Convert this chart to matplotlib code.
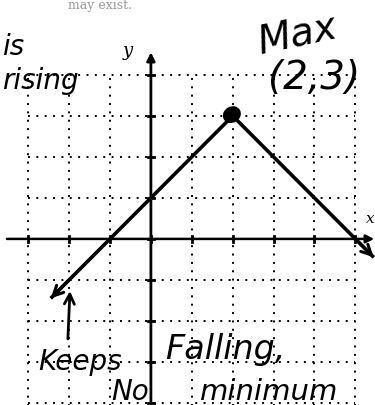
import matplotlib
matplotlib.use("Agg")
import matplotlib.pyplot as plt
from matplotlib.patches import Ellipse

# grid lines of the graph paper
grid_x = [-3, -2, -1, 0, 1, 2, 3, 4, 5]
grid_y = [-4, -3, -2, -1, 0, 1, 2, 3, 4]

# the piecewise line: rises to the max, then falls
line_x = [-2.45, 2, 5.45]
line_y = [-1.45, 3, -0.45]
max_x, max_y = 2, 3

fig = plt.figure(figsize=(3.75, 4.06), dpi=100)
ax = fig.add_axes([0, 0, 1, 1])
ax.set_xlim(-3.69, 5.48)
ax.set_ylim(-4.05, 5.85)
ax.axis('off')

dots = (0, (1.0, 3.3))
for gx in grid_x:
    if gx != 0:
        ax.plot([gx, gx], [-4.1, 4], color='black', lw=1.4, ls=dots)
for gy in grid_y:
    if gy != 0:
        ax.plot([-3, 5], [gy, gy], color='black', lw=1.4, ls=dots)

# axes with arrows
ax.annotate('', xy=(5.46, 0), xytext=(-3.52, 0), annotation_clip=False,
            arrowprops=dict(arrowstyle='-|>', lw=1.8, color='black', mutation_scale=12,
                            shrinkA=0, shrinkB=0))
ax.annotate('', xy=(0, 4.55), xytext=(0, -4.1), annotation_clip=False,
            arrowprops=dict(arrowstyle='-|>', lw=2.0, color='black', mutation_scale=12,
                            shrinkA=0, shrinkB=0))
for gx in grid_x:
    ax.plot([gx, gx], [-0.08, 0.08], color='black', lw=2)
for gy in grid_y:
    ax.plot([-0.08, 0.08], [gy, gy], color='black', lw=2)
ax.text(-0.56, 4.6, 'y', fontsize=13, style='italic', family='DejaVu Serif',
        ha='center', va='center')
ax.text(5.46, 0.5, 'x', fontsize=11, style='italic', family='DejaVu Serif',
        ha='right', va='center')

# function graph
ax.plot(line_x[:2], line_y[:2], color='black', lw=2.6, solid_capstyle='butt')
ax.plot(line_x[1:], line_y[1:], color='black', lw=2.6, solid_capstyle='butt')
ax.annotate('', xy=(line_x[0], line_y[0]), xytext=(line_x[0] + 0.5, line_y[0] + 0.5),
            arrowprops=dict(arrowstyle='->', lw=2.2, color='black', mutation_scale=18,
                            shrinkA=0, shrinkB=0))
ax.annotate('', xy=(line_x[2], line_y[2]), xytext=(line_x[2] - 0.5, line_y[2] + 0.5),
            annotation_clip=False,
            arrowprops=dict(arrowstyle='->', lw=2.2, color='black', mutation_scale=18,
                            shrinkA=0, shrinkB=0))
ax.add_patch(Ellipse((max_x - 0.02, max_y + 0.03), 0.42, 0.36, angle=30,
                     color='black', zorder=5))

# handwritten notes
hand = dict(family='DejaVu Sans', style='italic', color='black')
ax.text(-1.25, 5.72, 'may exist.', fontsize=9, color='#999999',
        family='DejaVu Serif', ha='center', va='center')
ax.text(3.6, 5.0, 'Max', fontsize=28, rotation=12, ha='center', va='center', **hand)
ax.text(4.0, 3.95, '(2,3)', fontsize=28, ha='center', va='center', **hand)
ax.text(-3.65, 4.7, 'is', fontsize=20, ha='left', va='center', **hand)
ax.text(-3.65, 3.88, 'rising', fontsize=20, ha='left', va='center', **hand)
ax.text(-1.74, -2.98, 'Keeps', fontsize=20, ha='center', va='center', **hand)
ax.text(1.81, -2.68, 'Falling,', fontsize=24, ha='center', va='center', **hand)
ax.text(-0.5, -3.7, 'No', fontsize=20, ha='center', va='center', **hand)
ax.text(2.9, -3.7, 'minimum', fontsize=21, ha='center', va='center', **hand)
ax.annotate('', xy=(-1.98, -1.27), xytext=(-2.03, -2.44),
            arrowprops=dict(arrowstyle='->', lw=2.0, color='black', mutation_scale=18,
                            shrinkA=0, shrinkB=0))

fig.savefig('out.png', dpi=100)
